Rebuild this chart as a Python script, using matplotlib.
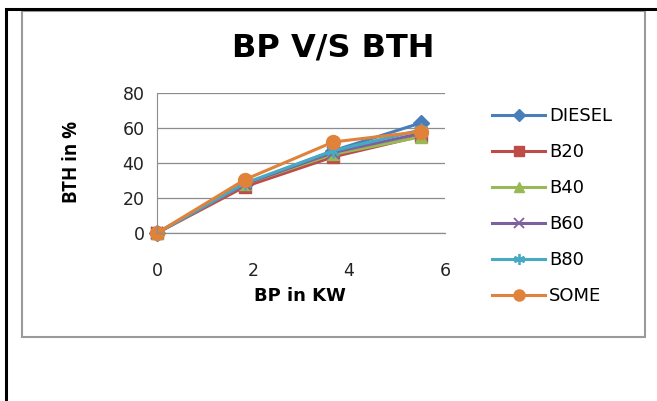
import matplotlib.pyplot as plt
from matplotlib.patches import Rectangle
from matplotlib.lines import Line2D

plt.rcParams['font.family'] = ['DejaVu Sans']

# BP in KW
bp = [0, 1.83, 3.67, 5.51]

# BTH in % for each fuel blend
diesel = [0, 28, 47, 63]
b20 = [0, 26.5, 43.5, 55.5]
b40 = [0, 28, 45, 55]
b60 = [0, 28, 46, 57]
b80 = [0, 28.5, 47, 59]
some = [0, 30.5, 52, 58]

names = ["DIESEL", "B20", "B40", "B60", "B80", "SOME"]
series = [diesel, b20, b40, b60, b80, some]
colors = ["#4A7EBB", "#BE4B48", "#98B954", "#7D60A0", "#46AAC5", "#E0823A"]
markers = ["D", "s", "^", "x", (6, 2, 0), "o"]
msizes = [8, 9, 9, 9, 10, 10]

W, H = 657, 401
fig = plt.figure(figsize=(W / 100, H / 100), dpi=100)
fig.patch.set_facecolor("white")

# black page border (top and left only) and grey chart frame
fig.add_artist(Line2D([6 / W, 6 / W, 1], [0, 1 - 9 / H, 1 - 9 / H], transform=fig.transFigure,
                      color="black", lw=2.2, solid_joinstyle="miter"))
fig.patches.append(Rectangle((22 / W, (H - 337) / H), 623 / W, 326 / H, transform=fig.transFigure,
                             fill=False, ec="#9a9a9a", lw=1.5))

ax = fig.add_axes([157 / W, (H - 233) / H, 288 / W, 140 / H])
for name, vals, c, m, ms in zip(names, series, colors, markers, msizes):
    mew = 1.0 if m in ("D", "s", "^", "o") else 1.3
    ax.plot(bp, vals, color=c, marker=m, markersize=ms, lw=2.2, label=name,
            clip_on=False, markeredgewidth=mew, markeredgecolor=c)

ax.set_xlim(0, 6)
ax.set_ylim(0, 80)
ax.set_xticks([0, 2, 4, 6])
ax.set_yticks([0, 20, 40, 60, 80])
ax.grid(axis="y", color="#8c8c8c", lw=0.9)
ax.set_axisbelow(True)
for s in ["top", "right"]:
    ax.spines[s].set_visible(False)
ax.spines["left"].set_color("#8c8c8c")
ax.spines["bottom"].set_color("#8c8c8c")
ax.spines["bottom"].set_linewidth(0.9)
ax.tick_params(length=0, labelsize=12.5, colors="#222222")
ax.tick_params(axis="x", pad=21)
ax.tick_params(axis="y", pad=9)

fig.text(333 / W, 1 - 47.5 / H, "BP V/S BTH", ha="center", va="center", fontsize=23, fontweight="bold")
fig.text(72 / W, 1 - 162 / H, "BTH in %", ha="center", va="center", rotation=90,
         fontsize=13.5, fontweight="bold", family=["Liberation Sans Narrow", "Open Sans", "DejaVu Sans"])
fig.text(300 / W, 1 - 296 / H, "BP in KW", ha="center", va="center", fontsize=13, fontweight="bold")

leg = ax.legend(loc="upper left", bbox_to_anchor=(492 / W, 1 - 107 / H), bbox_transform=fig.transFigure,
                frameon=False, fontsize=13, handlelength=2.95, handletextpad=0.2, labelspacing=1.0,
                borderpad=0, borderaxespad=0, markerscale=0.8)

fig.savefig("out.png", dpi=100)
